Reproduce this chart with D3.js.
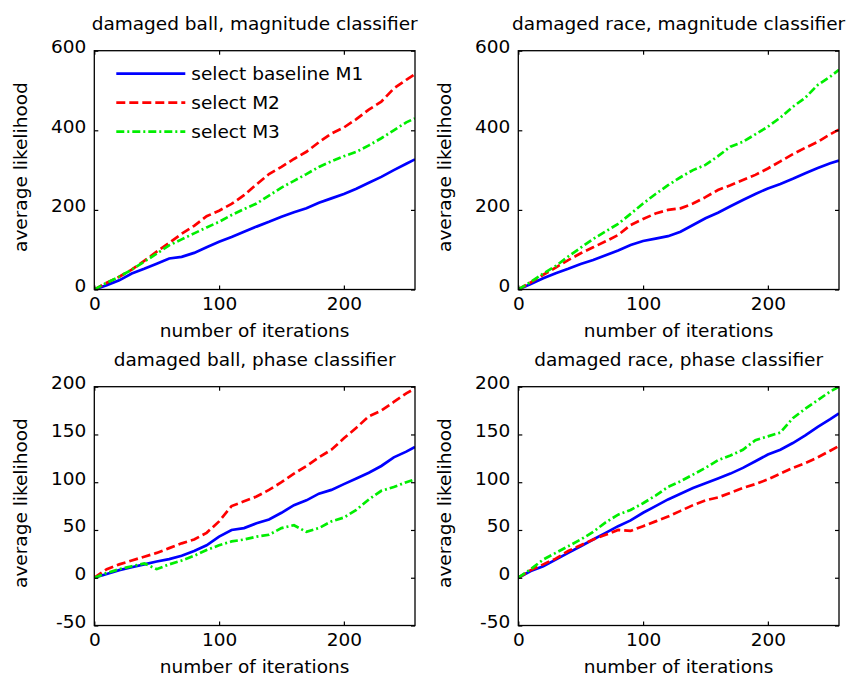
<!DOCTYPE html>
<html>
<head>
<meta charset="utf-8">
<script src="https://d3js.org/d3.v7.min.js"></script>
<style>
  body { margin: 0; background: #fff; }
  text { font-family: "DejaVu Sans", sans-serif; font-size: 18.5px; fill: #000; }
</style>
</head>
<body>
<div id="chart"></div>
<script>

// iteration numbers shared by every series
var iterations = [0, 10, 20, 30, 40, 50, 60, 70, 80, 90, 100, 110, 120, 130, 140, 150,
                  160, 170, 180, 190, 200, 210, 220, 230, 240, 250, 257];

var seriesNames = ["select baseline M1", "select M2", "select M3"];

// damaged ball, magnitude classifier
var ballMagM1 = [0, 11, 23, 40, 52, 65, 78, 82, 92, 106, 120, 132, 145, 158, 170, 183,
                 194, 204, 218, 229, 240, 253, 268, 283, 300, 316, 327];
var ballMagM2 = [0, 17, 32, 50, 72, 95, 117, 140, 160, 184, 198, 215, 237, 264, 290, 308,
                 328, 346, 370, 392, 407, 428, 452, 472, 505, 527, 541];
var ballMagM3 = [0, 17, 32, 50, 70, 90, 111, 126, 141, 156, 170, 187, 202, 216, 236, 256,
                 273, 290, 308, 322, 335, 346, 362, 380, 400, 420, 430];

// damaged race, magnitude classifier
var raceMagM1 = [0, 14, 28, 41, 52, 64, 74, 86, 98, 112, 122, 128, 134, 145, 162, 179,
                 193, 209, 225, 240, 254, 265, 278, 292, 305, 317, 324];
var raceMagM2 = [0, 18, 37, 55, 74, 91, 106, 121, 137, 162, 177, 191, 200, 204, 216, 232,
                 250, 262, 275, 288, 304, 322, 340, 356, 371, 390, 402];
var raceMagM3 = [0, 19, 40, 59, 83, 105, 127, 146, 165, 190, 216, 240, 262, 282, 300, 313,
                 335, 359, 371, 390, 409, 432, 459, 482, 514, 535, 552];

// damaged ball, phase classifier
var ballPhaseM1 = [0, 4, 8, 11, 14, 17, 19.5, 23, 28, 34, 43, 50, 52, 57, 61, 68,
                   76, 81, 88, 92, 98, 104, 110, 117, 126, 132, 137];
var ballPhaseM2 = [0, 9, 14, 18, 22, 26, 31, 36, 40, 47, 59, 75, 80, 85, 92, 100,
                   109, 117, 126, 134, 146, 157, 169, 175, 184, 193, 198];
var ballPhaseM3 = [0, 5, 9, 12, 15, 9, 14, 18, 23, 29, 34, 38, 40, 43, 45, 52,
                   55, 48, 52, 59, 63, 71, 82, 91, 95, 100, 103];

// damaged race, phase classifier
var racePhaseM1 = [0, 7, 12, 19, 26, 33, 40, 47, 54, 60, 68, 75, 82, 88, 94, 99,
                   104, 109, 115, 122, 129, 134, 141, 149, 158, 166, 172];
var racePhaseM2 = [0, 8, 14, 20, 28, 34, 40, 45, 50, 49, 54, 59, 64, 70, 76, 81,
                   84, 89, 94, 98, 103, 109, 115, 120, 126, 133, 138];
var racePhaseM3 = [0, 9, 19, 26, 33, 40, 48, 58, 66, 71, 78, 86, 95, 101, 108, 115,
                   123, 128, 134, 144, 148, 152, 167, 177, 186, 195, 200];

var xTicks = [0, 100, 200];
var magTicks = [0, 200, 400, 600];
var phaseTicks = [-50, 0, 50, 100, 150, 200];

var titles = ["damaged ball, magnitude classifier", "damaged race, magnitude classifier",
              "damaged ball, phase classifier", "damaged race, phase classifier"];

var panels = [
  {title: titles[0], yDomain: [0, 600], yTicks: magTicks, values: [ballMagM1, ballMagM2, ballMagM3], legend: true},
  {title: titles[1], yDomain: [0, 600], yTicks: magTicks, values: [raceMagM1, raceMagM2, raceMagM3]},
  {title: titles[2], yDomain: [-50, 200], yTicks: phaseTicks, values: [ballPhaseM1, ballPhaseM2, ballPhaseM3]},
  {title: titles[3], yDomain: [-50, 200], yTicks: phaseTicks, values: [racePhaseM1, racePhaseM2, racePhaseM3]}
];

// line styles per series
var colors = ["#0000ff", "#ff0000", "#00ee00"];
var dashes = [null, "9,4", "8,3,2,3"];

var width = 848, height = 677;
var lefts = [94.3, 518.3], tops = [50.7, 386.7];
var plotW = 320.7, plotH = 238.8;

var svg = d3.select("#chart").append("svg")
    .attr("width", width)
    .attr("height", height);

panels.forEach(function(p, k) {
  var x0 = lefts[k % 2], y0 = tops[Math.floor(k / 2)];

  var x = d3.scaleLinear().domain([0, 257]).range([0, plotW]);
  var y = d3.scaleLinear().domain(p.yDomain).range([plotH, 0]);

  var g = svg.append("g").attr("transform", "translate(" + x0 + "," + y0 + ")");

  // title
  g.append("text")
      .attr("x", plotW / 2)
      .attr("y", -21)
      .attr("text-anchor", "middle")
      .text(p.title);

  // clip so lines stay in the box
  var clipId = "clip" + k;
  g.append("clipPath").attr("id", clipId)
    .append("rect").attr("width", plotW).attr("height", plotH);

  // data lines
  var line = d3.line()
      .x(function(d, i) { return x(iterations[i]); })
      .y(function(d) { return y(d); });

  var lines = g.append("g").attr("clip-path", "url(#" + clipId + ")");
  p.values.forEach(function(vals, s) {
    lines.append("path")
        .datum(vals)
        .attr("d", line)
        .attr("fill", "none")
        .attr("stroke", colors[s])
        .attr("stroke-width", 2.7)
        .attr("stroke-dasharray", dashes[s]);
  });

  // axes with inward ticks, mirrored on top and right
  var fmt = function(d) { return String(d); };
  g.append("g")
      .attr("transform", "translate(0," + plotH + ")")
      .call(d3.axisBottom(x).tickValues(xTicks).tickSizeInner(-4).tickSizeOuter(0).tickFormat(fmt))
      .call(function(a) {
        a.selectAll("text").attr("font-size", null).attr("font-family", null).attr("dy", null).attr("y", 20);
      });
  g.append("g")
      .call(d3.axisTop(x).tickValues(xTicks).tickSizeInner(-4).tickSizeOuter(0).tickFormat(""));
  g.append("g")
      .call(d3.axisLeft(y).tickValues(p.yTicks).tickSizeInner(-4).tickSizeOuter(0).tickFormat(fmt))
      .call(function(a) {
        a.selectAll("text").attr("font-size", null).attr("font-family", null)
          .attr("dy", null).attr("y", 2).attr("x", -8);
      });
  g.append("g")
      .attr("transform", "translate(" + plotW + ",0)")
      .call(d3.axisRight(y).tickValues(p.yTicks).tickSizeInner(-4).tickSizeOuter(0).tickFormat(""));

  svg.selectAll(".domain").remove();
  g.selectAll(".tick line").attr("stroke", "#000").attr("stroke-width", 1.2);

  // box
  g.append("rect")
      .attr("width", plotW)
      .attr("height", plotH)
      .attr("fill", "none")
      .attr("stroke", "#000")
      .attr("stroke-width", 1.3);

  // axis labels
  g.append("text")
      .attr("x", plotW / 2)
      .attr("y", plotH + 48)
      .attr("text-anchor", "middle")
      .text("number of iterations");
  g.append("text")
      .attr("transform", "translate(-67," + (plotH / 2 - 3) + ") rotate(-90)")
      .attr("text-anchor", "middle")
      .text("average likelihood");

  // legend in the first panel only
  if (p.legend) {
    var leg = g.append("g");
    seriesNames.forEach(function(name, s) {
      var ly = 23 + s * 29;
      leg.append("line")
          .attr("x1", 22).attr("x2", 91)
          .attr("y1", ly).attr("y2", ly)
          .attr("stroke", colors[s])
          .attr("stroke-width", 2.7)
          .attr("stroke-dasharray", dashes[s]);
      leg.append("text")
          .attr("x", 97)
          .attr("y", ly + 6)
          .text(name);
    });
  }
});

</script>
</body>
</html>
